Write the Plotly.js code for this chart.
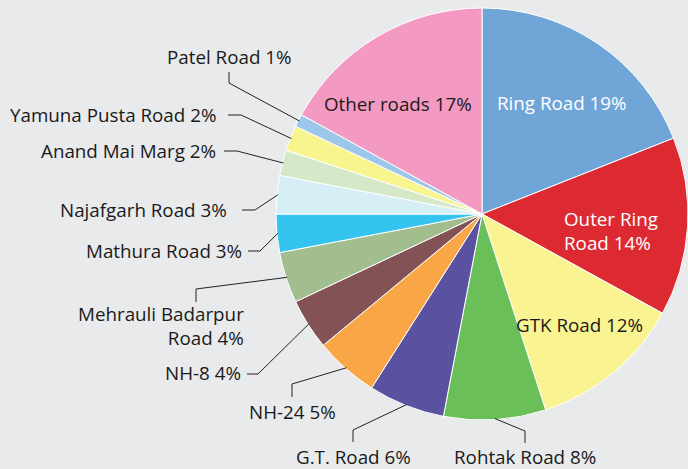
<!DOCTYPE html>
<html>
<head>
<meta charset="utf-8">
<script src="https://cdn.plot.ly/plotly-3.0.1.min.js"></script>
<style>html,body{margin:0;padding:0;background:#e9eaec;}#chart{width:688px;height:469px;}</style>
</head>
<body>
<div id="chart"></div>
<script>
// ---- data ----
var categories = ["Ring Road", "Outer Ring Road", "GTK Road", "Rohtak Road", "G.T. Road", "NH-24", "NH-8",
  "Mehrauli Badarpur Road", "Mathura Road", "Najafgarh Road", "Anand Mai Marg", "Yamuna Pusta Road", "Patel Road", "Other roads"];
var shares = [19, 14, 12, 8, 6, 5, 4, 4, 3, 3, 2, 2, 1, 17];
var sliceColors = ["#6fa5d7", "#dd2a32", "#f9f391", "#6bbf58", "#5a51a0", "#f9a647", "#835254",
  "#a2bd8e", "#35c4f0", "#d6eef6", "#d5e8c8", "#f8f58e", "#9dc7ea", "#f49ac2"];
var labelText = ["Ring Road", "Outer Ring<br>Road", "GTK Road", "Rohtak Road", "G.T. Road", "NH-24", "NH-8",
  "Mehrauli Badarpur<br>Road", "Mathura Road", "Najafgarh Road", "Anand Mai Marg", "Yamuna Pusta Road", "Patel Road", "Other roads"];

// ---- layout helpers ----
var W = 688, H = 469;
var CX = 482, CY = 214, R = 206;
function px(x) { return x / W; }
function py(y) { return 1 - y / H; }

// label placement: [x, y, xanchor, align, textColor, leader(null or [x1,y1,x2,y2])]
var place = [
  [562, 103, "center", "center", "#ffffff", null],
  [562, 231, "left", "left", "#ffffff", null],
  [579, 325, "center", "center", "#1a1a1a", null],
  [525, 457, "center", "center", "#1a1a1a", [525, 443, 525, 431]],
  [353, 457, "center", "center", "#1a1a1a", [353, 442, 353, 430]],
  [292, 412, "center", "center", "#1a1a1a", [292, 397, 292, 384]],
  [243, 373, "right", "right", "#1a1a1a", [247, 374, 258, 374]],
  [246, 326, "right", "right", "#1a1a1a", [196, 302, 196, 289]],
  [244, 251, "right", "right", "#1a1a1a", [248, 251, 260, 251]],
  [229, 210, "right", "right", "#1a1a1a", [242, 210, 255, 210]],
  [218, 115, "right", "right", "#1a1a1a", [224, 151, 237, 151]],
  [218, 115, "right", "right", "#1a1a1a", [228, 115, 241, 115]],
  [229, 57, "center", "center", "#1a1a1a", [229, 72, 229, 83]],
  [398, 104, "center", "center", "#1a1a1a", null]
];
place[10][1] = 151;

var total = shares.reduce(function (a, b) { return a + b; }, 0);
var annotations = [], shapes = [];
var cum = 0;
for (var i = 0; i < categories.length; i++) {
  var mid = (cum + shares[i] / 2) / total * 2 * Math.PI; // clockwise from 12 o'clock
  cum += shares[i];
  var p = place[i];
  annotations.push({
    x: px(p[0]), y: py(p[1]), xref: "paper", yref: "paper",
    xanchor: p[2], yanchor: "middle", align: p[3], showarrow: false,
    text: labelText[i] + " " + shares[i] + "%",
    font: { family: "Open Sans, Noto Sans, sans-serif", size: 18.8, color: p[4] }
  });
  if (p[5]) {
    var L = p[5];
    var ex = CX + (R - 1) * Math.sin(mid), ey = CY - (R - 1) * Math.cos(mid);
    var lineStyle = { color: "#222222", width: 1 };
    shapes.push({ type: "line", xref: "paper", yref: "paper", x0: px(L[0]), y0: py(L[1]), x1: px(L[2]), y1: py(L[3]), line: lineStyle });
    shapes.push({ type: "line", xref: "paper", yref: "paper", x0: px(L[2]), y0: py(L[3]), x1: px(ex), y1: py(ey), line: lineStyle });
  }
}

var trace = {
  type: "pie",
  labels: categories,
  values: shares,
  sort: false,
  direction: "clockwise",
  rotation: 0,
  textinfo: "none",
  hoverinfo: "label+percent",
  marker: { colors: sliceColors, line: { color: "#ffffff", width: 1 } },
  domain: { x: [px(CX - R), 1], y: [py(CY + R), py(CY - R)] },
  showlegend: false
};

var layout = {
  width: W, height: H,
  margin: { l: 0, r: 0, t: 0, b: 0 },
  paper_bgcolor: "#e9eaec",
  plot_bgcolor: "#e9eaec",
  showlegend: false,
  annotations: annotations,
  shapes: shapes
};

Plotly.newPlot("chart", [trace], layout, { displayModeBar: false, staticPlot: true });
</script>
</body>
</html>
